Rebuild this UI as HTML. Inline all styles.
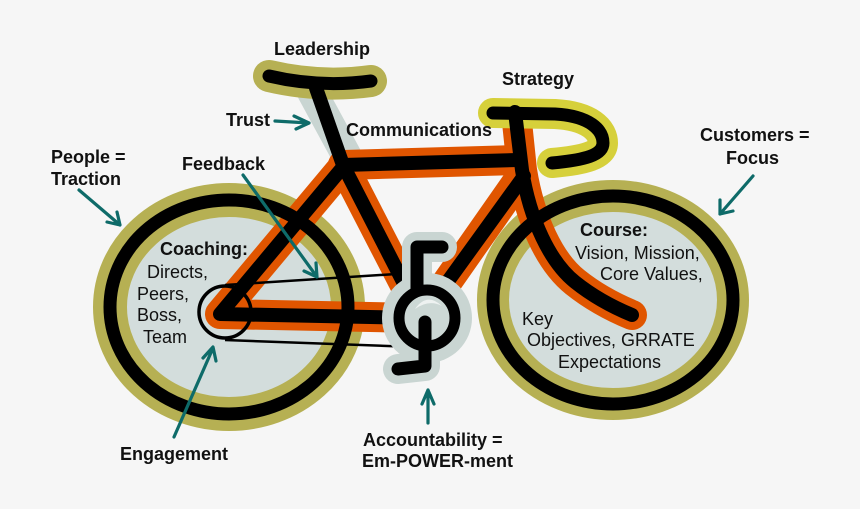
<!DOCTYPE html>
<html><head><meta charset="utf-8"><style>
html,body{margin:0;padding:0;background:#f6f6f6;}
svg{display:block;}
text{font-family:"Liberation Sans",Arial,sans-serif;font-size:18px;fill:#111;}
.b{font-weight:bold;}
</style></head><body>
<svg width="860" height="509" viewBox="0 0 860 509" xmlns="http://www.w3.org/2000/svg">
<rect width="860" height="509" fill="#f6f6f6"/>
<!-- seatpost shadow -->
<path d="M312,92 L350,162" stroke="#c9d5d2" stroke-width="30" stroke-linecap="round" fill="none"/>
<!-- wheels base -->
<ellipse cx="229" cy="307" rx="119" ry="107" fill="#d3dddc" stroke="#b6b053" stroke-width="34"/>
<ellipse cx="613" cy="300" rx="120" ry="104" fill="#d3dddc" stroke="#b6b053" stroke-width="32"/>
<!-- frame orange -->
<g stroke="#e05500" stroke-width="30" stroke-linecap="round" stroke-linejoin="round" fill="none">
<path d="M517,122 L522,170 C530,220 550,262 575,282 C595,298 615,308 632,315"/>
<path d="M343,165 L518,160"/>
<path d="M343,167 L220,314 L420,318"/>
<path d="M522,175 L438,295"/>
<path d="M343,165 L410,295"/>
</g>
<!-- wheel black rings -->
<ellipse cx="229" cy="307" rx="119" ry="107" fill="none" stroke="#000" stroke-width="13"/>
<ellipse cx="613" cy="300" rx="120" ry="104" fill="none" stroke="#000" stroke-width="13"/>
<!-- seat olive -->
<path d="M269,76 Q320,88 371,81" stroke="#b6b053" stroke-width="32" stroke-linecap="round" fill="none"/>
<!-- handlebar yellow -->
<path d="M493,113 L555,114 C590,116 603,130 603,143 C603,155 585,160 552,163" stroke="#d6d03b" stroke-width="30" stroke-linecap="round" stroke-linejoin="round" fill="none"/>
<!-- frame black -->
<g stroke="#000" stroke-width="14" stroke-linecap="round" stroke-linejoin="round" fill="none">
<path d="M316,88 L343,165 L415,305"/>
<path d="M343,165 L518,160"/>
<path d="M343,167 L220,314 L420,318"/>
<path d="M524,176 L438,295"/>
<path d="M515,112 L522,170 C530,220 550,262 575,282 C595,298 615,308 632,315"/>
<path d="M269,76 Q320,88 371,81" stroke-width="13"/>
<path d="M493,113 L555,114 C590,116 603,130 603,143 C603,155 585,160 552,163" stroke-width="13"/>
</g>
<!-- chain -->
<circle cx="225" cy="312" r="26" fill="none" stroke="#000" stroke-width="3.5"/>
<path d="M225,285 L412,273 M225,340 L415,347" stroke="#000" stroke-width="2.5" fill="none"/>
<!-- crank halo -->
<g stroke="#c9d5d2" stroke-width="30" stroke-linecap="round" stroke-linejoin="round" fill="none">
<path d="M442,247 L417,247 L417,290"/>
<path d="M425,320 L425,366 L398,369"/>
</g>
<circle cx="427" cy="318" r="45" fill="#c9d5d2"/>
<circle cx="427" cy="318" r="28" fill="#ccd8d5" stroke="#000" stroke-width="11"/>
<path d="M415,309 Q427,292 442,306 Q429,299 415,309 Z" fill="#eef2f1"/>
<g stroke="#000" stroke-width="13" stroke-linecap="round" stroke-linejoin="round" fill="none">
<path d="M442,247 L417,247 L417,290"/>
<path d="M425,322 L425,366 L398,369"/>
</g>
<!-- arrows -->
<g stroke="#0e6b69" stroke-width="3.2" fill="none" stroke-linecap="round" stroke-linejoin="round">
<path d="M275,121 L309,123 M294,116 L309,123 L296,129"/>
<path d="M79,190 L120,225 M107,222 L120,225 L117,212"/>
<path d="M243,175 L317,277 M304,271 L317,277 L316,263"/>
<path d="M753,176 L720,214 M720,200 L720,214 L733,211"/>
<path d="M174,437 L213,348 M203,358 L213,347 L216,361"/>
<path d="M428,423 L428,390 M422,404 L428,390 L434,404"/>
</g>
<!-- labels -->
<text class="b" x="274" y="55">Leadership</text>
<text class="b" x="226" y="126">Trust</text>
<text class="b" x="346" y="136">Communications</text>
<text class="b" x="502" y="85">Strategy</text>
<text class="b" x="51" y="163">People =</text>
<text class="b" x="51" y="185">Traction</text>
<text class="b" x="182" y="170">Feedback</text>
<text class="b" x="700" y="141">Customers =</text>
<text class="b" x="726" y="164">Focus</text>
<text class="b" x="160" y="255">Coaching:</text>
<text x="147" y="278">Directs,</text>
<text x="137" y="300">Peers,</text>
<text x="137" y="321">Boss,</text>
<text x="143" y="343">Team</text>
<text class="b" x="580" y="236">Course:</text>
<text x="575" y="259">Vision, Mission,</text>
<text x="600" y="280">Core Values,</text>
<text x="522" y="325">Key</text>
<text x="527" y="346">Objectives, GRRATE</text>
<text x="558" y="368">Expectations</text>
<text class="b" x="120" y="460">Engagement</text>
<text class="b" x="363" y="446">Accountability =</text>
<text class="b" x="362" y="467">Em-POWER-ment</text>
</svg>
</body></html>
